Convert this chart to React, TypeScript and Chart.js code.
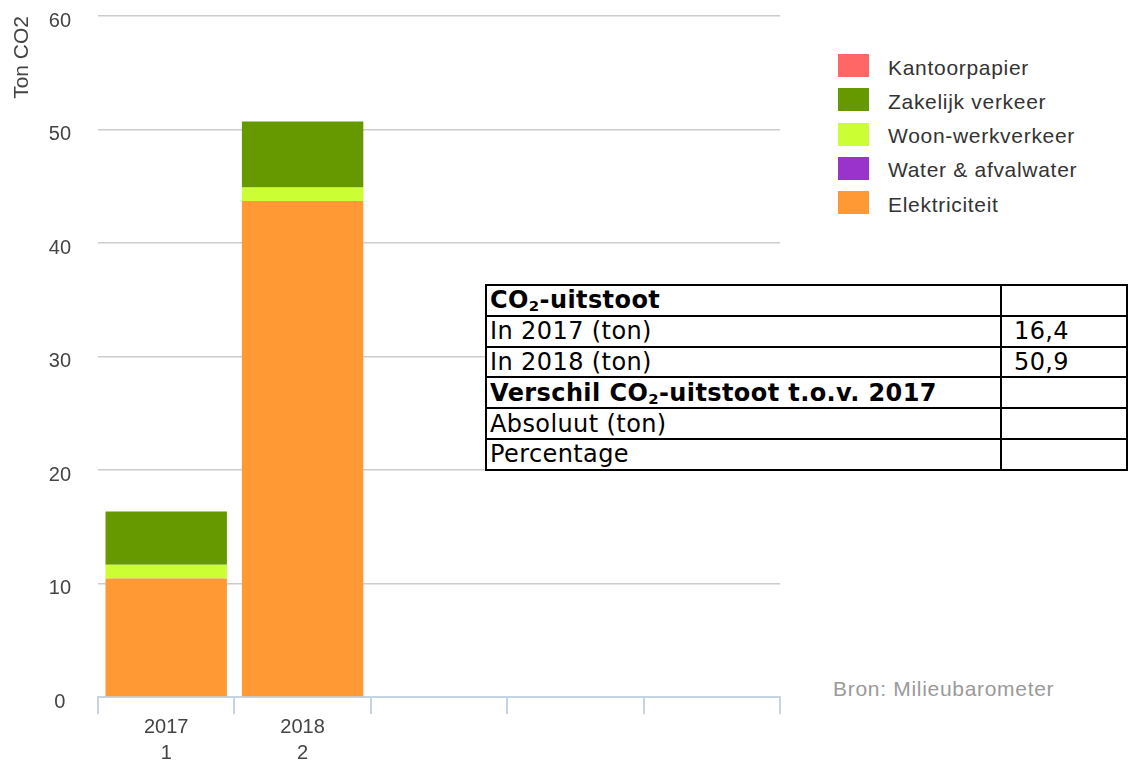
import React, { useEffect, useRef } from "react";
import { Chart, registerables } from "chart.js";

Chart.register(...registerables);

// ---- data ----
const categories = ["2017", "2018", "", "", ""];
const categoryNumbers = ["1", "2", "", "", ""];

const elektriciteit = [10.45, 43.7, null, null, null];
const waterAfvalwater = [0, 0, null, null, null];
const woonWerkverkeer = [1.2, 1.2, null, null, null];
const zakelijkVerkeer = [4.7, 5.8, null, null, null];
const kantoorpapier = [0, 0, null, null, null];

const legendNames = ["Kantoorpapier", "Zakelijk verkeer", "Woon-werkverkeer", "Water & afvalwater", "Elektriciteit"];
const legendColors = ["#ff6666", "#669900", "#ccff33", "#9933cc", "#ff9933"];

const yMin = 0;
const yMax = 60;
const yStep = 10;
const yTitle = "Ton CO2";

const tableLabels = ["CO₂-uitstoot", "In 2017 (ton)", "In 2018 (ton)", "Verschil CO₂-uitstoot t.o.v. 2017", "Absoluut (ton)", "Percentage"];
const tableValues = ["", "16,4", "50,9", "", "", ""];
const tableBold = [true, false, false, true, false, false];

const sourceText = "Bron: Milieubarometer";

const AXIS_FONT = '"Liberation Sans", Arial, Helvetica, sans-serif';

function renderLabel(s: string) {
  const parts = s.split("₂");
  const out: any[] = [];
  parts.forEach((p, i) => {
    out.push(<span key={"t" + i}>{p}</span>);
    if (i < parts.length - 1)
      out.push(
        <sub key={"s" + i} style={{ fontSize: "62%", verticalAlign: "-0.2em", lineHeight: 0 }}>
          2
        </sub>
      );
  });
  return out;
}

export default function App() {
  const canvasRef = useRef<HTMLCanvasElement | null>(null);

  useEffect(() => {
    document.documentElement.style.overflow = "hidden";
    document.body.style.overflow = "hidden";
    if (!canvasRef.current) return;
    const colorOf = (name: string) => legendColors[legendNames.indexOf(name)];
    const chart = new Chart(canvasRef.current, {
      type: "bar",
      data: {
        labels: categories.map((c, i) => [c, categoryNumbers[i]]),
        datasets: [
          { label: "Elektriciteit", data: elektriciteit, backgroundColor: colorOf("Elektriciteit") },
          { label: "Water & afvalwater", data: waterAfvalwater, backgroundColor: colorOf("Water & afvalwater") },
          { label: "Woon-werkverkeer", data: woonWerkverkeer, backgroundColor: colorOf("Woon-werkverkeer") },
          { label: "Zakelijk verkeer", data: zakelijkVerkeer, backgroundColor: colorOf("Zakelijk verkeer") },
          { label: "Kantoorpapier", data: kantoorpapier, backgroundColor: colorOf("Kantoorpapier") },
        ] as any,
      },
      options: {
        animation: false,
        responsive: true,
        maintainAspectRatio: false,
        devicePixelRatio: 1,
        layout: { padding: { top: 8, left: 0, right: 8, bottom: 0 } },
        datasets: { bar: { barPercentage: 0.89, categoryPercentage: 1, borderWidth: 0 } },
        plugins: { legend: { display: false }, tooltip: { enabled: false } },
        scales: {
          x: {
            stacked: true,
            grid: { offset: true, drawOnChartArea: false, color: "#c5d4e4", lineWidth: 2, tickLength: 17 },
            border: { color: "#c5d4e4", width: 2 },
            ticks: {
              color: "#444",
              font: { family: AXIS_FONT, size: 20, lineHeight: 1.3 },
              padding: 0,
              maxRotation: 0,
              autoSkip: false,
            },
            afterFit: (s: any) => {
              s.height = 68;
            },
          },
          y: {
            stacked: true,
            min: yMin,
            max: yMax,
            ticks: {
              stepSize: yStep,
              color: "#444",
              font: { family: AXIS_FONT, size: 20 },
              crossAlign: "center",
              padding: 27,
              labelOffset: 5,
            },
            grid: { color: "#cccccc", lineWidth: 1.5, drawTicks: false },
            border: { display: false },
            title: {
              display: true,
              text: yTitle,
              align: "end",
              color: "#444",
              font: { family: AXIS_FONT, size: 21 },
              padding: { top: 2, bottom: 0 },
            },
            afterFit: (s: any) => {
              s.width = 90;
              s.paddingTop = 0;
              s.paddingBottom = 0;
            },
          },
        },
      } as any,
    });
    return () => chart.destroy();
  }, []);

  return (
    <div style={{ position: "relative", width: 1128, height: 757 }}>
      <div style={{ position: "absolute", left: 0, top: 0, width: 780, height: 757 }}>
        <canvas ref={canvasRef} />
      </div>

      {legendNames.map((name, i) => (
        <div
          key={name}
          style={{
            position: "absolute",
            left: 830,
            top: 46 + i * 34.3,
            height: 23,
            display: "flex",
            alignItems: "center",
            fontFamily: AXIS_FONT,
            fontSize: 21,
            letterSpacing: 0.7,
            color: "#333",
            whiteSpace: "nowrap",
          }}
        >
          <div style={{ width: 31, height: 23, background: legendColors[i], marginRight: 19 }} />
          <span style={{ position: "relative", top: 2 }}>{name}</span>
        </div>
      ))}

      <div
        style={{
          position: "absolute",
          left: 825,
          top: 669,
          lineHeight: "24px",
          fontFamily: AXIS_FONT,
          fontSize: 21,
          letterSpacing: 0.7,
          color: "#9a9a9a",
          whiteSpace: "nowrap",
        }}
      >
        {sourceText}
      </div>

      <table
        style={{
          position: "absolute",
          left: 477,
          top: 276,
          width: 643,
          borderCollapse: "collapse",
          fontFamily: '"DejaVu Sans", Verdana, sans-serif',
          fontSize: 24,
          letterSpacing: 0.4,
          color: "#000",
          background: "#fff",
        }}
      >
        <tbody>
          {tableLabels.map((label, i) => (
            <tr key={i}>
              <td
                style={{
                  border: "2px solid #000",
                  width: 510,
                  height: 28.8,
                  padding: "0 0 0 3px",
                  lineHeight: "28px",
                  fontWeight: tableBold[i] ? "bold" : "normal",
                  whiteSpace: "nowrap",
                }}
              >
                {renderLabel(label)}
              </td>
              <td
                style={{
                  border: "2px solid #000",
                  height: 28.8,
                  padding: "0 0 0 12px",
                  lineHeight: "28px",
                  whiteSpace: "nowrap",
                }}
              >
                {tableValues[i]}
              </td>
            </tr>
          ))}
        </tbody>
      </table>
    </div>
  );
}
